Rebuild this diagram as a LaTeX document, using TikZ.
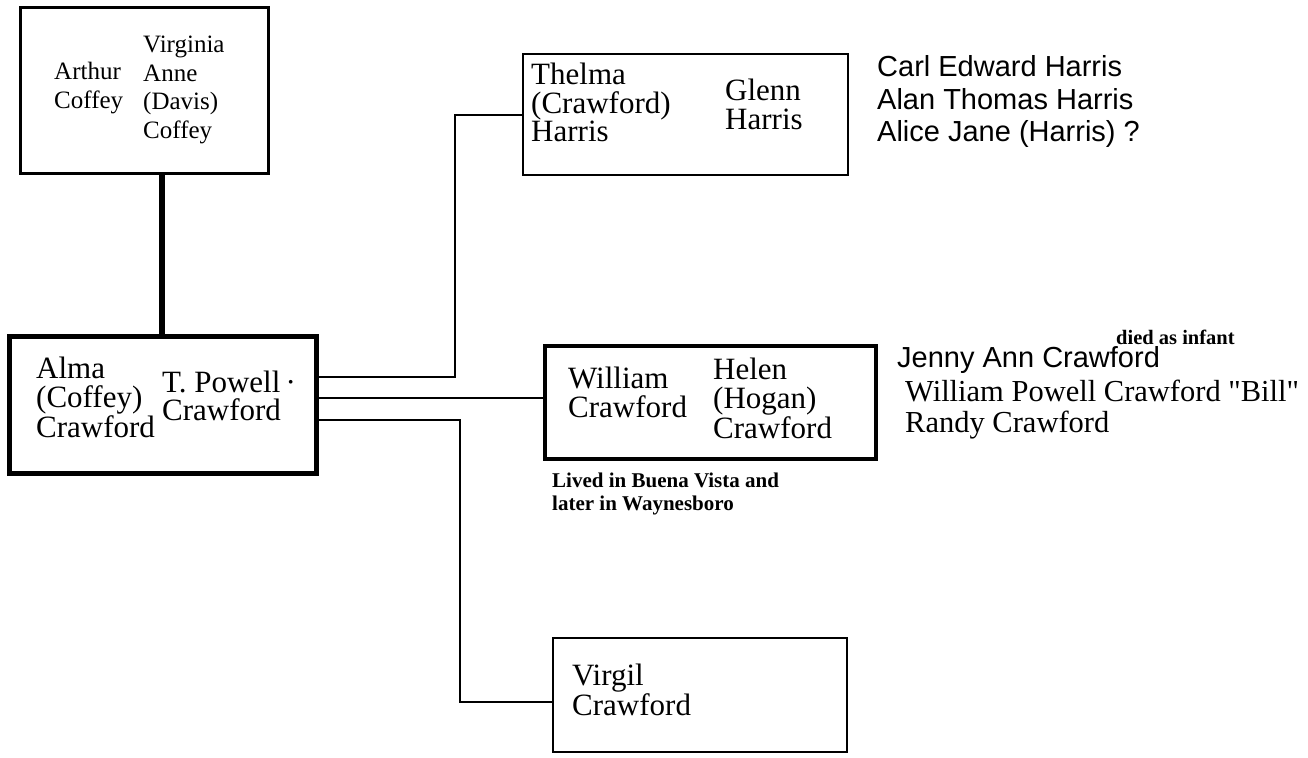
\documentclass[tikz,border=0pt]{standalone}
\usepackage{fontspec}
\setmainfont{Liberation Serif}
\newfontfamily\listsans{Liberation Sans}
\begin{document}
\begin{tikzpicture}[x=1pt,y=-1pt,
  box/.style={draw, rectangle, inner sep=0pt, line width=#1},
  conn/.style={line width=2.8pt},
  stem/.style={line width=6.5pt},
  txt/.style={anchor=base west, inner sep=0pt, align=left},
  big/.style={txt, font=\fontsize{31}{28.5}\selectfont},
  midf/.style={txt, font=\fontsize{25}{28.5}\selectfont},
  listf/.style={txt, font=\listsans\fontsize{29}{32.5}\selectfont},
  serlist/.style={txt, font=\fontsize{30.5}{31}\selectfont},
  note/.style={txt, font=\bfseries\fontsize{21}{23}\selectfont},
  tiny/.style={txt, font=\bfseries\fontsize{20.5}{22}\selectfont}]
\useasboundingbox (0,0) rectangle (1308,757);
% boxes
\node[box=3pt, minimum width=248pt, minimum height=166pt] (top) at (144,90.5) {};
\node[box=5pt, minimum width=307pt, minimum height=137pt] (main) at (162.5,404.5) {};
\node[box=2.8pt, minimum width=325pt, minimum height=121pt] (thelma) at (685.5,114.5) {};
\node[box=3.2pt, minimum width=331pt, minimum height=113pt] (william) at (710.5,402.5) {};
\node[box=2.8pt, minimum width=294pt, minimum height=114pt] (virgil) at (700,695) {};
% connectors
\coordinate (v) at (162,0);
\coordinate (a1) at (316,377);
\coordinate (a2) at (316,398);
\coordinate (a3) at (316,420);
\coordinate (b1) at (455,115);
\coordinate (b3) at (460,702);
\draw[stem] (top.south -| v) -- (main.north -| v);
\draw[conn] (main.east |- a1) -| (b1) -- (thelma.west |- b1);
\draw[conn] (main.east |- a2) -- (william.west |- a2);
\draw[conn] (main.east |- a3) -| (b3) -- (virgil.west |- b3);
% texts in boxes (anchored at the baseline of the last line)
\node[midf] (arthur) at (54,108.5) {Arthur\\Coffey};
\node[midf] (virginia) at (143,138.5) {Virginia\\Anne\\(Davis)\\Coffey};
\node[big] (alma) at (36,437) {Alma\\(Coffey)\\Crawford};
\node[big] (powell) at (162,420.5) {T. Powell\,·\\Crawford};
\node[big] (thelmat) at (531,142) {Thelma\\(Crawford)\\Harris};
\node[big] (glenn) at (725,129) {Glenn\\Harris};
\node[big, font=\fontsize{31}{29}\selectfont] (williamt) at (568,417) {William\\Crawford};
\node[big, font=\fontsize{31}{29.5}\selectfont] (helen) at (713,438) {Helen\\(Hogan)\\Crawford};
\node[big, font=\fontsize{31}{28}\selectfont] (virgilt) at (572,715) {Virgil\\Crawford};
\node[note] (lived) at (552,510) {Lived in Buena Vista and\\later in Waynesboro};
% children lists
\node[listf] (harris) at (877,142) {Carl Edward Harris\\Alan Thomas Harris\\Alice Jane (Harris) ?};
\node[listf] (jenny) at (897,367) {Jenny Ann Crawford};
\node[tiny] (died) at (1116,344) {died as infant};
\node[serlist] (bill) at (905,432) {William Powell Crawford \textquotedbl Bill\textquotedbl\\Randy Crawford};
\end{tikzpicture}
\end{document}
